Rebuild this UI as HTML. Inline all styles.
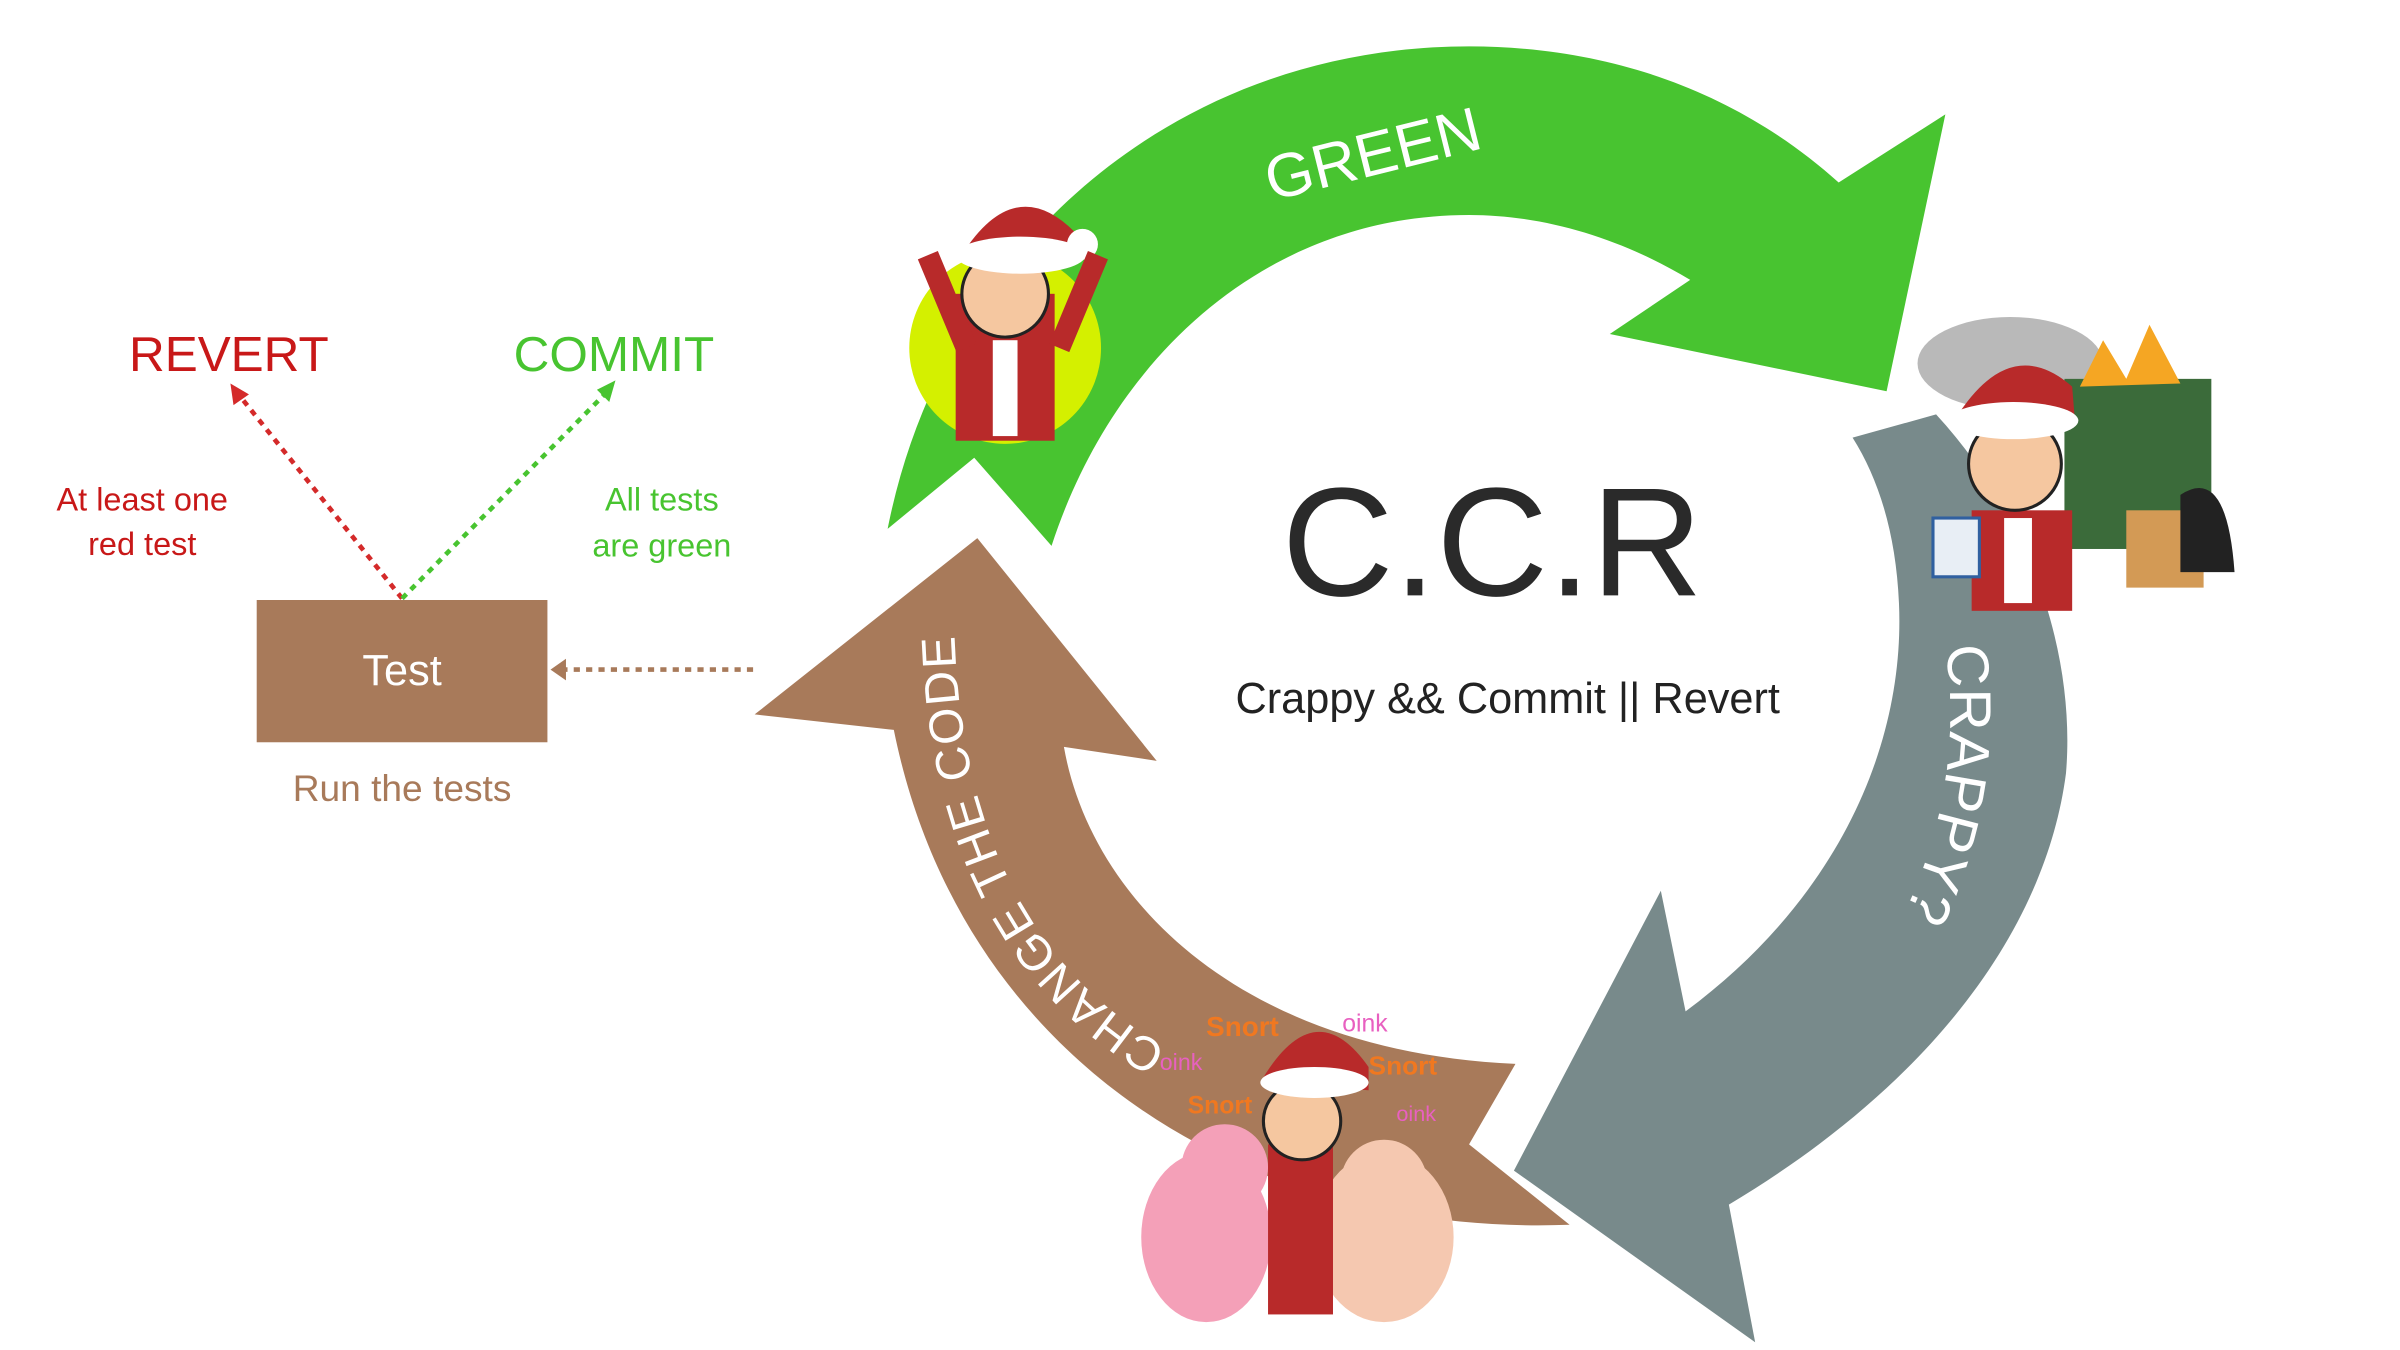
<!DOCTYPE html>
<html><head><meta charset="utf-8"><style>
html,body{margin:0;padding:0;background:#fff;}
svg{display:block;}
text{font-family:"Liberation Sans",sans-serif;}
</style></head><body>
<svg width="2400" height="1350" viewBox="0 0 1552 873" xmlns="http://www.w3.org/2000/svg">
<rect width="1552" height="873" fill="#fff"/>
<!-- green arrow -->
<path d="M574,342 C610,160 760,30 950,30 C1050,30 1130,65 1189,118 L1258,74 L1220,253 L1041,216 L1093,181 C1050,155 1000,139 950,139 C820,139 720,230 680,353 L630,296 Z" fill="#48c430"/>
<text x="0" y="0" font-size="40" fill="#fff" transform="translate(822,130) rotate(-14)">GREEN</text>
<!-- gray arrow -->
<path d="M1198,283 L1252,268 C1318,340 1342,430 1336,500 C1323,600 1250,700 1118,779 L1135,868 L979,757 L1074,576 L1090,654 C1190,580 1232,480 1228,390 C1226,345 1215,310 1198,283 Z" fill="#788a8b"/>
<path id="gp" d="M1258,418 A300,300 0 0 1 1212,625" fill="none"/>
<text font-size="38" fill="#fff"><textPath href="#gp">CRAPPY?</textPath></text>
<!-- brown arrow -->
<path d="M632,348 L748,492 L688,483 C705,580 800,680 980,688 L950,740 L1015,792 C800,800 620,680 578,472 L488,462 Z" fill="#a87a5a"/>
<path id="cp" d="M755,678 C670,630 618,540 617,395" fill="none"/>
<text font-size="31" fill="#fff" letter-spacing="1"><textPath href="#cp">CHANGE THE CODE</textPath></text>
<!-- center text -->
<text x="965" y="385" font-size="100" fill="#2a2a2a" text-anchor="middle">C.C.R</text>
<text x="975" y="461" font-size="28" fill="#222" text-anchor="middle">Crappy &amp;&amp; Commit || Revert</text>
<!-- green guy -->
<circle cx="650" cy="225" r="62" fill="#d4f000"/>
<rect x="618" y="190" width="64" height="95" fill="#b82a2a"/>
<rect x="642" y="220" width="16" height="62" fill="#fff"/>
<circle cx="650" cy="190" r="28" fill="#f5c7a0" stroke="#222" stroke-width="2"/>
<path d="M620,168 Q655,110 695,150 L700,168 Z" fill="#b82a2a"/>
<ellipse cx="660" cy="165" rx="42" ry="12" fill="#fff"/>
<circle cx="700" cy="158" r="10" fill="#fff"/>
<path d="M600,165 L625,225 M710,165 L685,225" stroke="#b82a2a" stroke-width="14"/>
<!-- dumpster -->
<ellipse cx="1300" cy="235" rx="60" ry="30" fill="#8a8a8a" opacity="0.6"/>
<rect x="1335" y="245" width="95" height="110" fill="#3b6b3a"/>
<path d="M1345,250 L1360,220 L1375,245 L1390,210 L1410,248 Z" fill="#f5a623"/>
<rect x="1375" y="330" width="50" height="50" fill="#d39a55"/>
<path d="M1410,320 Q1440,300 1445,370 L1410,370 Z" fill="#222"/>
<rect x="1275" y="330" width="65" height="65" fill="#b82a2a"/>
<rect x="1296" y="335" width="18" height="55" fill="#fff"/>
<circle cx="1303" cy="300" r="30" fill="#f5c7a0" stroke="#222" stroke-width="2"/>
<path d="M1265,270 Q1300,215 1340,250 L1342,275 Z" fill="#b82a2a"/>
<ellipse cx="1302" cy="272" rx="42" ry="12" fill="#fff"/>
<rect x="1250" y="335" width="30" height="38" fill="#e8eef5" stroke="#3060a0" stroke-width="2"/>
<!-- pigs -->
<text x="780" y="670" font-size="18" fill="#f07820" font-weight="bold">Snort</text>
<text x="868" y="667" font-size="16" fill="#e860c0">oink</text>
<text x="750" y="692" font-size="15" fill="#e860c0">oink</text>
<text x="885" y="695" font-size="17" fill="#f07820" font-weight="bold">Snort</text>
<text x="768" y="720" font-size="16" fill="#f07820" font-weight="bold">Snort</text>
<text x="903" y="725" font-size="14" fill="#e860c0">oink</text>
<ellipse cx="780" cy="800" rx="42" ry="55" fill="#f4a0b8"/>
<circle cx="792" cy="755" r="28" fill="#f4a0b8"/>
<ellipse cx="895" cy="800" rx="45" ry="55" fill="#f5c8b0"/>
<circle cx="895" cy="765" r="28" fill="#f5c8b0"/>
<rect x="820" y="740" width="42" height="110" fill="#b82a2a"/>
<circle cx="842" cy="725" r="25" fill="#f5c7a0" stroke="#222" stroke-width="2"/>
<path d="M815,700 Q850,640 885,690 L885,705 Z" fill="#b82a2a"/>
<ellipse cx="850" cy="700" rx="35" ry="10" fill="#fff"/>
<!-- left diagram -->
<rect x="166" y="388" width="188" height="92" fill="#a87a5a"/>
<text x="260" y="443" font-size="28" fill="#fff" text-anchor="middle">Test</text>
<text x="260" y="518" font-size="24" fill="#a87a5a" text-anchor="middle">Run the tests</text>
<line x1="487" y1="433" x2="364" y2="433" stroke="#a87a5a" stroke-width="3" stroke-dasharray="4,4"/>
<path d="M356,433 L366,426 L366,440 Z" fill="#a87a5a"/>
<line x1="260" y1="387" x2="155" y2="256" stroke="#d42a2a" stroke-width="3" stroke-dasharray="4,4"/>
<path d="M149,248 L151,262 L161,255 Z" fill="#d42a2a"/>
<line x1="260" y1="387" x2="392" y2="254" stroke="#48c430" stroke-width="3" stroke-dasharray="4,4"/>
<path d="M398,246 L386,252 L394,260 Z" fill="#48c430"/>
<text x="148" y="240" font-size="32" fill="#c81818" text-anchor="middle">REVERT</text>
<text x="397" y="240" font-size="32" fill="#48c430" text-anchor="middle">COMMIT</text>
<text x="92" y="330" font-size="21" fill="#c81818" text-anchor="middle">At least one</text>
<text x="92" y="359" font-size="21" fill="#c81818" text-anchor="middle">red test</text>
<text x="428" y="330" font-size="21" fill="#48c430" text-anchor="middle">All tests</text>
<text x="428" y="360" font-size="21" fill="#48c430" text-anchor="middle">are green</text>
</svg>
</body></html>
